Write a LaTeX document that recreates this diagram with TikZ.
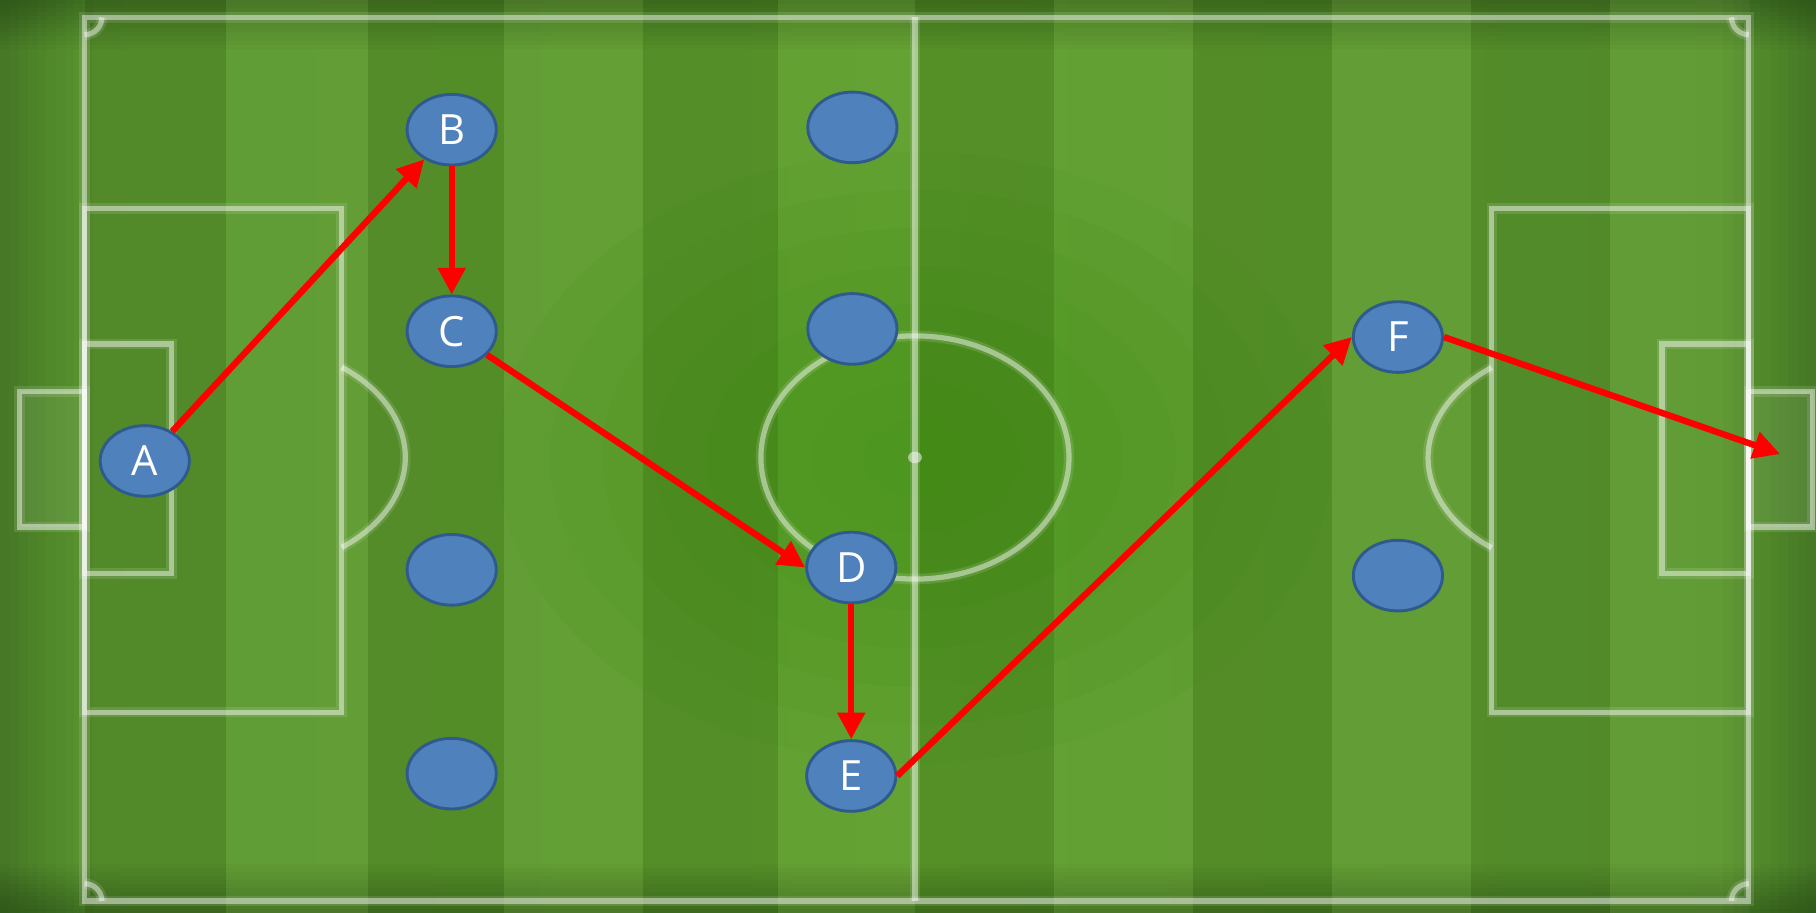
\documentclass[tikz,border=0pt]{standalone}
\usepackage{fontspec}
\setmainfont{Open Sans}
\usetikzlibrary{shapes.geometric,arrows.meta}
\definecolor{edgedk}{HTML}{24490F}
\definecolor{edgemd}{HTML}{386419}
\definecolor{edgelt}{HTML}{4A7F26}
\definecolor{midgr}{HTML}{5A962F}
\definecolor{centgr}{HTML}{5E9F2B}
\definecolor{glowgr}{HTML}{2F8A05}
\definecolor{nodefill}{HTML}{4F81BD}
\definecolor{nodeborder}{HTML}{2E5A8C}
\definecolor{passred}{HTML}{FF0000}
\pgfdeclarehorizontalshading{pitchh}{100bp}{color(0bp)=(edgedk); color(4bp)=(edgemd); color(10bp)=(edgelt); color(24bp)=(midgr); color(50bp)=(centgr); color(76bp)=(midgr); color(90bp)=(edgelt); color(96bp)=(edgemd); color(100bp)=(edgedk)}
\begin{document}
\begin{tikzpicture}[x=1pt,y=-1pt,
  pline/.style={draw=white,draw opacity=0.45,line width=4.5pt,
    preaction={draw=white,draw opacity=0.12,line width=9pt}},
  player/.style={ellipse,draw=nodeborder,fill=nodefill,line width=2.5pt,minimum width=77pt,minimum height=61pt,inner sep=0pt,text=white,font=\fontsize{36}{36}\selectfont},
  pass/.style={draw=passred,line width=5.5pt,-{Triangle[length=23pt,width=23pt]}}]
\useasboundingbox (0,0) rectangle (1568,788);
% turf
\shade[shading=pitchh] (0,0) rectangle (1568,788);
\foreach \a/\b in {73/195,318/435,555/672,790/910,1030/1150,1270/1390}
  \fill[black,opacity=0.09] (\a,0) rectangle (\b,788);
\foreach \a/\b in {195/318,435/555,672/790,910/1030,1150/1270,1390/1510}
  \fill[white,opacity=0.04] (\a,0) rectangle (\b,788);
\foreach \i in {1,...,12} {
  \fill[black,opacity=0.018] (0,0) rectangle (1568,3.5*\i);
  \fill[black,opacity=0.018] (0,788-3.5*\i) rectangle (1568,788);
}
\foreach \i in {1,...,10} {
  \fill[black,opacity=0.02] (0,0) rectangle (8*\i,788);
  \fill[black,opacity=0.02] (1568-8*\i,0) rectangle (1568,788);
}
\foreach \r in {1,...,8}
  \fill[glowgr,opacity=0.06] (790,395) ellipse[x radius=45*\r, y radius=33*\r];
% pitch markings
\draw[pline] (73,15) rectangle (1510,778);
\draw[pline] (790,15) -- (790,778);
\draw[pline] (790,395) ellipse[x radius=133, y radius=105];
\fill[white,opacity=0.5] (790,395) ellipse[x radius=6, y radius=5];
\draw[pline] (73,180) rectangle (295,615);
\draw[pline] (73,297) rectangle (148,495);
\draw[pline,fill=white,fill opacity=0.08] (17,338) rectangle (73,455);
\draw[pline] (295,317) arc[start angle=-52.6, end angle=52.6, x radius=140, y radius=98];
\draw[pline] (1288,180) rectangle (1510,615);
\draw[pline] (1435,297) rectangle (1510,495);
\draw[pline,fill=white,fill opacity=0.08] (1510,338) rectangle (1565,455);
\draw[pline] (1288,473) arc[start angle=127.4, end angle=232.6, x radius=140, y radius=98];
\draw[pline] (88,15) arc[start angle=0, end angle=90, radius=15];
\draw[pline] (1495,15) arc[start angle=180, end angle=90, radius=15];
\draw[pline] (88,778) arc[start angle=0, end angle=-90, radius=15];
\draw[pline] (1495,778) arc[start angle=180, end angle=270, radius=15];
% players
\node[player] (A) at (125,398) {A};
\node[player] (B) at (390,112) {B};
\node[player] (C) at (390,286) {C};
\node[player] (D) at (735,490) {D};
\node[player] (E) at (735,670) {E};
\node[player] (F) at (1207,291) {F};
\node[player] (p1) at (736,110) {};
\node[player] (p2) at (736,284) {};
\node[player] (p3) at (390,492) {};
\node[player] (p4) at (390,668) {};
\node[player] (p5) at (1207,497) {};
\coordinate (goal) at (1537,392);
% passes
\draw[pass] (A) -- (B);
\draw[pass] (B) -- (C);
\draw[pass] (C) -- (D.west);
\draw[pass] (D) -- (E);
\draw[pass] (E.east) -- (F.west);
\draw[pass] (F.east) -- (goal);
\end{tikzpicture}
\end{document}
